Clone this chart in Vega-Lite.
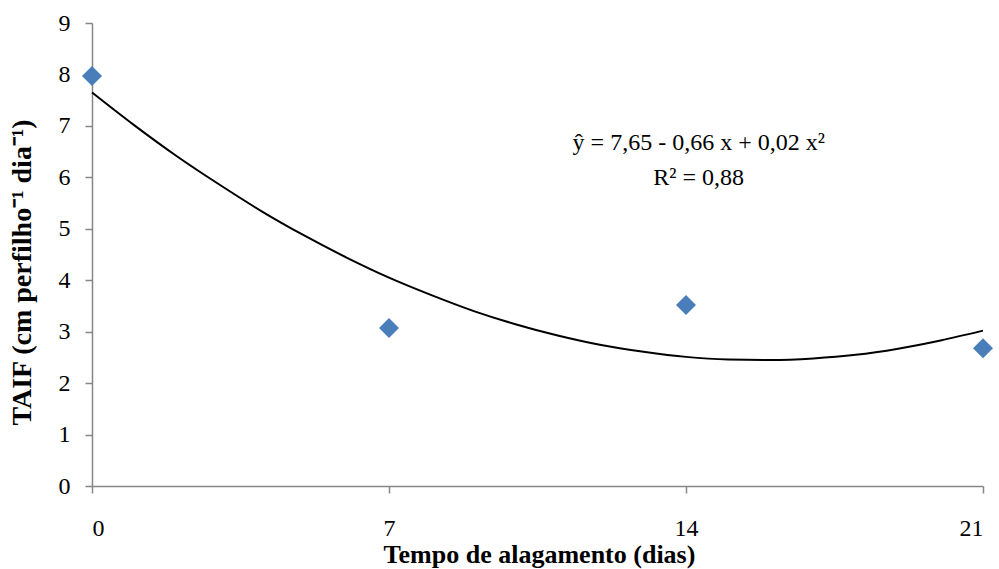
{
  "$schema": "https://vega.github.io/schema/vega-lite/v6.json",
  "width": 891,
  "height": 463,
  "autosize": {"type": "none"},
  "padding": {"left": 92, "top": 23, "right": 16, "bottom": 83},
  "background": "white",
  "config": {
    "view": {"stroke": null},
    "font": "Liberation Serif",
    "axis": {
      "grid": false,
      "domainColor": "#868686",
      "domainWidth": 1.5,
      "tickColor": "#868686",
      "tickWidth": 1.5,
      "tickSize": 7,
      "labelFont": "Liberation Serif",
      "labelFontSize": 24,
      "labelColor": "black",
      "titleFont": "Liberation Serif",
      "titleFontSize": 26,
      "titleFontWeight": "bold",
      "titleColor": "black"
    }
  },
  "datasets": {
    "obs": [
      {"dias": 0, "taif": 7.97},
      {"dias": 7, "taif": 3.07},
      {"dias": 14, "taif": 3.52},
      {"dias": 21, "taif": 2.68}
    ],
    "curve": [
      {"dias": 0, "taif": 7.65},
      {"dias": 1, "taif": 7.01},
      {"dias": 2, "taif": 6.41},
      {"dias": 3, "taif": 5.86},
      {"dias": 4, "taif": 5.34},
      {"dias": 5, "taif": 4.87},
      {"dias": 6, "taif": 4.44},
      {"dias": 7, "taif": 4.05},
      {"dias": 8, "taif": 3.71},
      {"dias": 9, "taif": 3.40},
      {"dias": 10, "taif": 3.14},
      {"dias": 11, "taif": 2.92},
      {"dias": 12, "taif": 2.74},
      {"dias": 13, "taif": 2.61},
      {"dias": 14, "taif": 2.51},
      {"dias": 15, "taif": 2.46},
      {"dias": 16, "taif": 2.45},
      {"dias": 17, "taif": 2.48},
      {"dias": 18, "taif": 2.55},
      {"dias": 19, "taif": 2.67},
      {"dias": 20, "taif": 2.83},
      {"dias": 21, "taif": 3.02}
    ],
    "eq": [
      {"dias": 14.3, "taif": 6.67, "label": "ŷ = 7,65 - 0,66 x + 0,02 x²"},
      {"dias": 14.3, "taif": 5.99, "label": "R² = 0,88"}
    ]
  },
  "encoding": {
    "x": {
      "field": "dias",
      "type": "quantitative",
      "scale": {"domain": [0, 21], "nice": false},
      "axis": {
        "values": [0, 7, 14, 21],
        "labelPadding": 23,
        "title": "Tempo de alagamento (dias)",
        "titleX": 447,
        "titleY": 76,
        "titleBaseline": "alphabetic"
      }
    },
    "y": {
      "field": "taif",
      "type": "quantitative",
      "scale": {"domain": [0, 9], "nice": false},
      "axis": {
        "values": [0, 1, 2, 3, 4, 5, 6, 7, 8, 9],
        "labelPadding": 15,
        "title": "TAIF (cm perfilho⁻¹ dia⁻¹)",
        "titleFontSize": 28,
        "titleX": -62,
        "titleY": 249,
        "titleBaseline": "alphabetic"
      }
    }
  },
  "layer": [
    {
      "data": {"name": "curve"},
      "mark": {"type": "line", "color": "black", "strokeWidth": 2, "interpolate": "monotone"}
    },
    {
      "data": {"name": "obs"},
      "mark": {"type": "point", "shape": "diamond", "filled": true, "color": "#4a7ebb", "size": 400, "opacity": 1}
    },
    {
      "data": {"name": "eq"},
      "mark": {"type": "text", "font": "Liberation Serif", "fontSize": 24, "color": "black", "align": "center", "baseline": "middle"},
      "encoding": {"text": {"field": "label"}}
    }
  ]
}
